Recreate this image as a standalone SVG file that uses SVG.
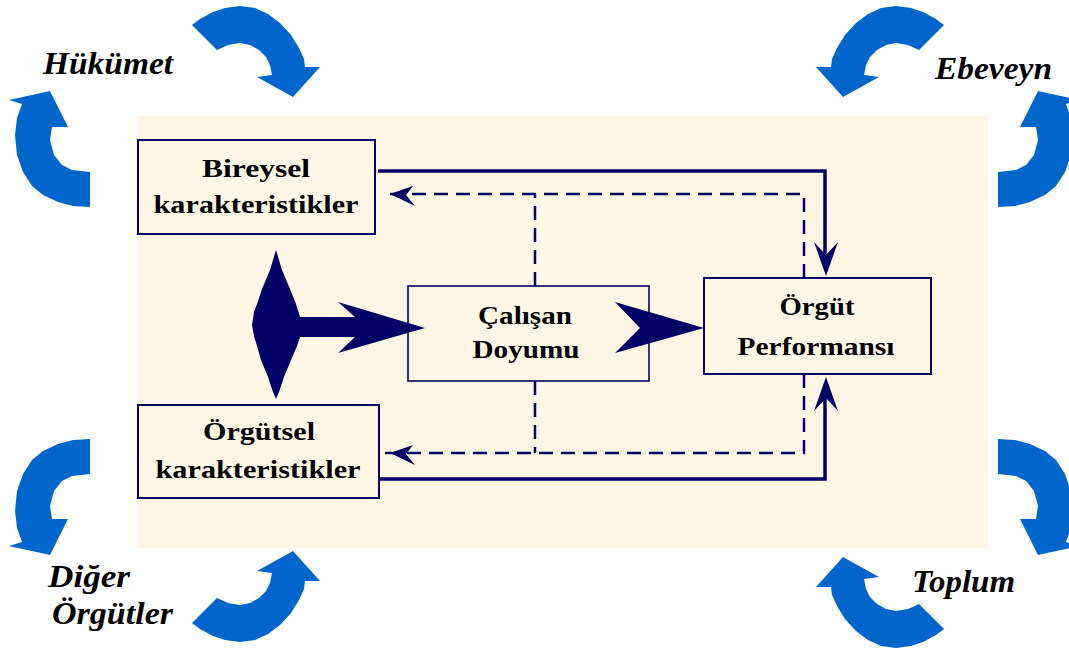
<svg xmlns="http://www.w3.org/2000/svg" width="1069" height="650" viewBox="0 0 1069 650">
  <style>
    .panel { fill: #FFF7E6; }
    .box { fill: #FFF7E6; stroke: #000066; stroke-width: 2; }
    .box-thin { stroke-width: 1.6; }
    .label { font-family: "Liberation Serif", "Times New Roman", serif; font-weight: bold; font-size: 26px; fill: #000; text-anchor: middle; }
    .outer { font-family: "Liberation Serif", "Times New Roman", serif; font-weight: bold; font-style: italic; font-size: 32px; fill: #000; }
    .solid { fill: none; stroke: #000066; stroke-width: 3.5; }
    .dashed { fill: none; stroke: #000066; stroke-width: 2.5; stroke-dasharray: 14 8; }
    .head { fill: #000066; }
    .cycle { fill: #0066CC; }
  </style>
  <defs>
    <!-- curved cycle arrow sweeping clockwise over the top, pointing down-right -->
    <polygon id="arcOver" points="192,25 200,19 213,12 225,8 240,6 255,8 268,14 280,23 291,35 299,48 304,59 305,67 320,67 293,97 257,77 272,75 270,65 266,57 259,50 250,45 240,43 228,45 217,50"/>
    <!-- curved cycle arrow sweeping up the left side, pointing up -->
    <polygon id="arcSide" points="50,91 68,127 52,127 50,140 54,155 62,165 72,170 90,172 90,207 73,206 58,202 43,195 32,186 23,172 17,155 15,135 17,118 22,104 9,100"/>
  </defs>

  <!-- background panel -->
  <rect class="panel" x="138" y="116" width="850" height="432"/>

  <!-- environment cycle arrows -->
  <g id="cycles" class="cycle">
    <use href="#arcOver"/>
    <use href="#arcOver" transform="translate(1136,0) scale(-1,1)"/>
    <use href="#arcOver" transform="translate(0,648) scale(1,-1)"/>
    <use href="#arcOver" transform="translate(1136,654) scale(-1,-1)"/>
    <use href="#arcSide"/>
    <use href="#arcSide" transform="translate(1088,0) scale(-1,1)"/>
    <use href="#arcSide" transform="translate(0,646) scale(1,-1)"/>
    <use href="#arcSide" transform="translate(1088,646) scale(-1,-1)"/>
  </g>

  <!-- environment labels -->
  <g id="env-hukumet"><text class="outer" x="43" y="74" textLength="130" lengthAdjust="spacingAndGlyphs">Hükümet</text></g>
  <g id="env-ebeveyn"><text class="outer" x="935" y="79" textLength="117" lengthAdjust="spacingAndGlyphs">Ebeveyn</text></g>
  <g id="env-diger">
    <text class="outer" x="48" y="587" textLength="82" lengthAdjust="spacingAndGlyphs">Diğer</text>
    <text class="outer" x="52" y="624" textLength="121" lengthAdjust="spacingAndGlyphs">Örgütler</text>
  </g>
  <g id="env-toplum"><text class="outer" x="912" y="592" textLength="103" lengthAdjust="spacingAndGlyphs">Toplum</text></g>

  <!-- nodes -->
  <g id="node-bireysel">
    <rect class="box" x="138" y="140" width="237" height="94"/>
    <text class="label" x="256" y="177" textLength="108" lengthAdjust="spacingAndGlyphs">Bireysel</text>
    <text class="label" x="256" y="213" textLength="205" lengthAdjust="spacingAndGlyphs">karakteristikler</text>
  </g>
  <g id="node-orgutsel">
    <rect class="box" x="138" y="405" width="241" height="93"/>
    <text class="label" x="259" y="440" textLength="112" lengthAdjust="spacingAndGlyphs">Örgütsel</text>
    <text class="label" x="258" y="478" textLength="205" lengthAdjust="spacingAndGlyphs">karakteristikler</text>
  </g>
  <g id="node-calisan">
    <rect class="box box-thin" x="408" y="286" width="241" height="95"/>
    <text class="label" x="525" y="324" textLength="94" lengthAdjust="spacingAndGlyphs">Çalışan</text>
    <text class="label" x="526" y="358" textLength="107" lengthAdjust="spacingAndGlyphs">Doyumu</text>
  </g>
  <g id="node-performans">
    <rect class="box" x="704" y="278" width="227" height="96"/>
    <text class="label" x="817" y="315" textLength="75" lengthAdjust="spacingAndGlyphs">Örgüt</text>
    <text class="label" x="816" y="355" textLength="157" lengthAdjust="spacingAndGlyphs">Performansı</text>
  </g>

  <!-- connectors (drawn over the boxes so arrow tips overlap the borders) -->
  <g id="connectors">
    <!-- feed-forward lines into performance -->
    <path class="solid" d="M378,171 H825 V258"/>
    <polygon class="head" points="826,276 814,242 826,255 838,242"/>
    <path class="solid" d="M378,479 H825 V396"/>
    <polygon class="head" points="826,377 814,411 826,398 838,411"/>

    <!-- feedback lines (dashed) -->
    <path class="dashed" d="M804,278 V194 H382"/>
    <path class="dashed" d="M535,286 V194"/>
    <polygon class="head" points="390,194 413,186 406,195 415,206"/>
    <path class="dashed" d="M804,374 V453 H382"/>
    <path class="dashed" d="M535,381 V453"/>
    <polygon class="head" points="390,453 413,445 406,454 415,465"/>

    <!-- combined characteristics into satisfaction -->
    <polygon class="head" points="276,250 282,270 290,289 296,304 300,317 355,317 338,302 425,328 338,353 355,337 300,337 297,346 291,360 284,377 279,392 276,399 273,392 268,377 261,360 257,346 254,336 252,325 254,312 257,304 262,289 270,270"/>

    <!-- satisfaction into performance -->
    <polygon class="head" points="615,302 704,328 615,353 640,328"/>
  </g>
</svg>
